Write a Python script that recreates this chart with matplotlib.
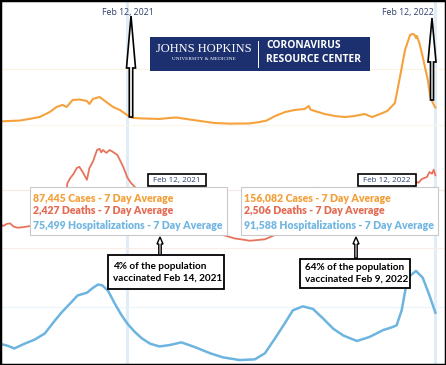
import matplotlib.pyplot as plt
import pandas as pd
from matplotlib.patches import Rectangle, FancyArrow

# 7-day averages
case_dates = ['2020-09-14', '2020-10-08', '2020-10-31', '2020-11-12', '2020-11-20', '2020-11-27',
              '2020-12-02', '2020-12-09', '2020-12-17', '2020-12-26', '2020-12-29', '2021-01-02',
              '2021-01-10', '2021-01-18', '2021-01-26', '2021-02-03', '2021-02-12', '2021-02-18',
              '2021-03-04', '2021-03-22', '2021-04-03', '2021-04-11', '2021-04-27', '2021-05-09',
              '2021-05-26', '2021-06-13', '2021-07-07', '2021-07-19', '2021-07-27', '2021-08-06',
              '2021-08-18', '2021-08-29', '2021-09-10', '2021-09-15', '2021-09-17', '2021-09-22',
              '2021-10-04', '2021-10-16', '2021-10-28', '2021-11-08', '2021-11-20', '2021-11-29',
              '2021-12-07', '2021-12-17', '2021-12-26', '2022-01-01', '2022-01-07', '2022-01-13',
              '2022-01-16', '2022-01-18', '2022-01-20', '2022-01-21', '2022-01-24', '2022-01-28',
              '2022-02-03', '2022-02-06', '2022-02-09', '2022-02-12']
case_vals = [32000, 40000, 71000, 116000, 161000, 179000,
             161000, 223000, 228000, 214000, 188000, 232000,
             250000, 205000, 161000, 134000, 87445, 63000,
             58000, 54000, 63000, 67000, 49000, 36000,
             18000, 12000, 14000, 27000, 40000, 80000,
             116000, 134000, 143000, 170000, 138000, 125000,
             98000, 80000, 71000, 80000, 98000, 71000,
             94000, 125000, 196000, 429000, 670000, 804000,
             813000, 808000, 777000, 795000, 732000, 607000,
             402000, 250000, 196000, 156082]

death_dates = ['2020-09-14', '2020-09-18', '2020-09-22', '2020-09-26', '2020-09-30', '2020-10-05',
               '2020-10-12', '2020-10-20', '2020-10-28', '2020-11-07', '2020-11-19', '2020-11-28',
               '2020-12-03', '2020-12-06', '2020-12-10', '2020-12-14', '2020-12-17', '2020-12-21',
               '2020-12-26', '2020-12-29', '2021-01-02', '2021-01-07', '2021-01-10', '2021-01-12',
               '2021-01-14', '2021-01-18', '2021-01-22', '2021-01-26', '2021-01-31', '2021-02-03',
               '2021-02-07', '2021-02-12', '2021-02-16', '2021-02-21', '2021-03-05', '2021-03-20',
               '2021-04-05', '2021-04-25', '2021-05-15', '2021-06-01', '2021-06-11', '2021-06-19',
               '2021-07-01', '2021-07-07', '2021-07-25', '2021-08-06', '2021-08-20', '2021-09-01',
               '2021-09-10', '2021-09-15', '2021-09-22', '2021-09-28', '2021-10-10', '2021-10-25',
               '2021-11-10', '2021-11-25', '2021-12-10', '2021-12-25', '2022-01-05', '2022-01-15',
               '2022-01-21', '2022-01-23', '2022-01-27', '2022-02-02', '2022-02-05', '2022-02-08',
               '2022-02-10', '2022-02-12']
death_vals = [820, 760, 830, 850, 740, 700,
              720, 760, 820, 1000, 1450, 1350,
              2240, 2400, 2550, 2760, 2800, 2620,
              2350, 2760, 2970, 3380, 3420, 3300,
              3380, 3280, 3380, 3310, 3210, 3040,
              2800, 2427, 2250, 2100, 1600, 1100,
              800, 700, 600, 480, 400, 330,
              280, 250, 300, 450, 1000, 1450,
              1850, 1950, 2080, 2000, 1700, 1300,
              1100, 1050, 1300, 1350, 1500, 1950,
              2280, 2250, 2380, 2450, 2620, 2560,
              2700, 2506]

hosp_dates = ['2020-09-14', '2020-09-23', '2020-10-01', '2020-10-13', '2020-10-25', '2020-11-06',
              '2020-11-18', '2020-11-26', '2020-12-06', '2020-12-15', '2020-12-26', '2021-01-02',
              '2021-01-08', '2021-01-13', '2021-01-20', '2021-01-28', '2021-02-05', '2021-02-12',
              '2021-02-21', '2021-03-01', '2021-03-11', '2021-03-22', '2021-04-03', '2021-04-17',
              '2021-05-03', '2021-05-21', '2021-06-05', '2021-06-25', '2021-07-13', '2021-07-25',
              '2021-08-06', '2021-08-18', '2021-08-27', '2021-09-08', '2021-09-20', '2021-10-02',
              '2021-10-14', '2021-10-26', '2021-11-11', '2021-11-26', '2021-12-12', '2021-12-22',
              '2021-12-28', '2022-01-03', '2022-01-08', '2022-01-13', '2022-01-20', '2022-01-28',
              '2022-02-05', '2022-02-12']
hosp_vals = [46000, 43000, 39000, 46000, 52000, 61000,
             80000, 92000, 105000, 117000, 121000, 128000,
             133000, 132000, 124000, 105000, 88000, 75499,
             63000, 54000, 46000, 42000, 44000, 48000,
             41000, 32000, 26000, 22000, 23000, 32000,
             54000, 77000, 95000, 101000, 97000, 83000,
             68000, 58000, 50000, 56000, 66000, 70000,
             73000, 95000, 129000, 146000, 153000, 143000,
             117000, 91588]

marked_days = ['2021-02-12', '2022-02-12']
marked_labels = ['Feb 12, 2021', 'Feb 12, 2022']
tip_cases = ['87,445', '156,082']
tip_deaths = ['2,427', '2,506']
tip_hosp = ['75,499', '91,588']
vacc_notes = ['4% of the population\nvaccinated Feb 14, 2021',
              '64% of the population\nvaccinated Feb 9, 2022']

orange = '#f5a23c'
red = '#e8735c'
blue = '#6db4e0'
navy = '#2d3f6e'

W, H = 446, 365
fig = plt.figure(figsize=(W / 100, H / 100), dpi=100)
start = pd.Timestamp('2020-09-14')
end = start + pd.Timedelta(days=W / 0.8438)


def panel(zero_px, per_px):
    ax = fig.add_axes([0, 0, 1, 1])
    ax.set_xlim(start, end)
    ax.set_ylim(-(H - zero_px) * per_px, zero_px * per_px)
    ax.axis('off')
    ax.patch.set_alpha(0)
    return ax


ax_c = panel(125, 500000 / 56)
ax_d = panel(248, 2000 / 58)
ax_h = panel(375, 100000 / 68)

for d in marked_days:
    ax_c.axvline(pd.Timestamp(d), color='#e0edf9', lw=2.2, zorder=0)

ax_c.axhline(0, color='#fdf4ea', lw=0.8, zorder=0)
ax_c.axhline(500000, color='#fdf1e4', lw=0.8, zorder=0)
ax_d.axhline(0, color='#fcebe8', lw=0.8, zorder=0)
ax_d.axhline(2000, color='#fbe7e3', lw=0.8, zorder=0)
ax_h.axhline(100000, color='#ebf4fb', lw=0.8, zorder=0)

ax_c.plot(pd.to_datetime(case_dates), case_vals, color=orange, lw=1.5)
ax_d.plot(pd.to_datetime(death_dates), death_vals, color=red, lw=1.3)
ax_h.plot(pd.to_datetime(hosp_dates), hosp_vals, color=blue, lw=1.8)

# overlay in pixel units for the annotations
ov = fig.add_axes([0, 0, 1, 1])
ov.set_xlim(0, W)
ov.set_ylim(H, 0)
ov.axis('off')
ov.patch.set_alpha(0)

# logo
ov.add_patch(Rectangle((150, 37), 220, 34, fc='#1c2f6e', ec='none'))
ov.text(204, 49, 'JOHNS HOPKINS', family='Liberation Serif', fontsize=9, color='white',
        ha='center', va='center')
ov.text(204, 59, 'UNIVERSITY & MEDICINE', family='Liberation Serif', fontsize=3.8, color='white',
        ha='center', va='center')
ov.plot([258, 258], [41, 67], color='white', lw=0.7)
ov.text(266, 45, 'CORONAVIRUS', family='Open Sans', weight='bold', fontsize=7.4, color='white',
        va='center')
ov.text(266, 60, 'RESOURCE CENTER', family='Open Sans', weight='bold', fontsize=7.4, color='white',
        va='center')

# top date labels and big arrows
ov.text(128, 13, marked_labels[0], family='Open Sans', fontsize=6.3, color=navy, ha='center', va='center')
ov.text(408, 13, marked_labels[1], family='Open Sans', fontsize=6.3, color=navy, ha='center', va='center')
ov.add_patch(FancyArrow(131, 117, 0, -101, width=3.4, head_width=9, head_length=52,
                        length_includes_head=True, fc='white', ec='black', lw=1.2))
ov.add_patch(FancyArrow(432, 100, 0, -82, width=3, head_width=8, head_length=44,
                        length_includes_head=True, fc='white', ec='black', lw=1.2))

# tooltips
for x0, i in [(30, 0), (241, 1)]:
    ov.add_patch(Rectangle((x0, 187), 197, 48, fc='white', ec='#c9c9c9', lw=0.8))
    ov.text(x0 + 3, 198, f'{tip_cases[i]} Cases - 7 Day Average', family='Lato', weight='heavy',
            fontsize=7.6, color='#f4a03a', va='center')
    ov.text(x0 + 3, 211, f'{tip_deaths[i]} Deaths - 7 Day Average', family='Lato', weight='heavy',
            fontsize=7.6, color='#e46a52', va='center')
    ov.text(x0 + 3, 225.5, f'{tip_hosp[i]} Hospitalizations - 7 Day Average', family='Lato',
            weight='heavy', fontsize=7.6, color='#72b6e2', va='center')

# small date boxes
for x0, lab in [(148, marked_labels[0]), (358, marked_labels[1])]:
    ov.add_patch(Rectangle((x0, 174), 58, 12, fc='white', ec='black', lw=1.2))
    ov.text(x0 + 29, 180.5, lab, family='Open Sans', fontsize=5.8, color=navy, ha='center', va='center')

# small arrows and vaccination notes
ov.add_patch(FancyArrow(160, 256, 0, -19, width=2.4, head_width=6, head_length=7,
                        length_includes_head=True, fc='white', ec='black', lw=1))
ov.add_patch(FancyArrow(356, 258, 0, -21, width=2.4, head_width=6, head_length=7,
                        length_includes_head=True, fc='white', ec='black', lw=1))
ov.add_patch(Rectangle((108, 255), 116, 34, fc='white', ec='black', lw=1.3))
ov.text(113, 272, vacc_notes[0], family='Lato', weight='bold', fontsize=7.2, color='black',
        va='center', linespacing=1.35)
ov.add_patch(Rectangle((300, 259), 110, 29, fc='white', ec='black', lw=1.3))
ov.text(305, 273.5, vacc_notes[1], family='Lato', weight='bold', fontsize=7.2, color='black',
        va='center', linespacing=1.3)

# outer frame
fig.add_artist(Rectangle((0, 0), 1, 1, transform=fig.transFigure, fill=False, ec='black', lw=2.5))

fig.savefig('out.png', dpi=100)
